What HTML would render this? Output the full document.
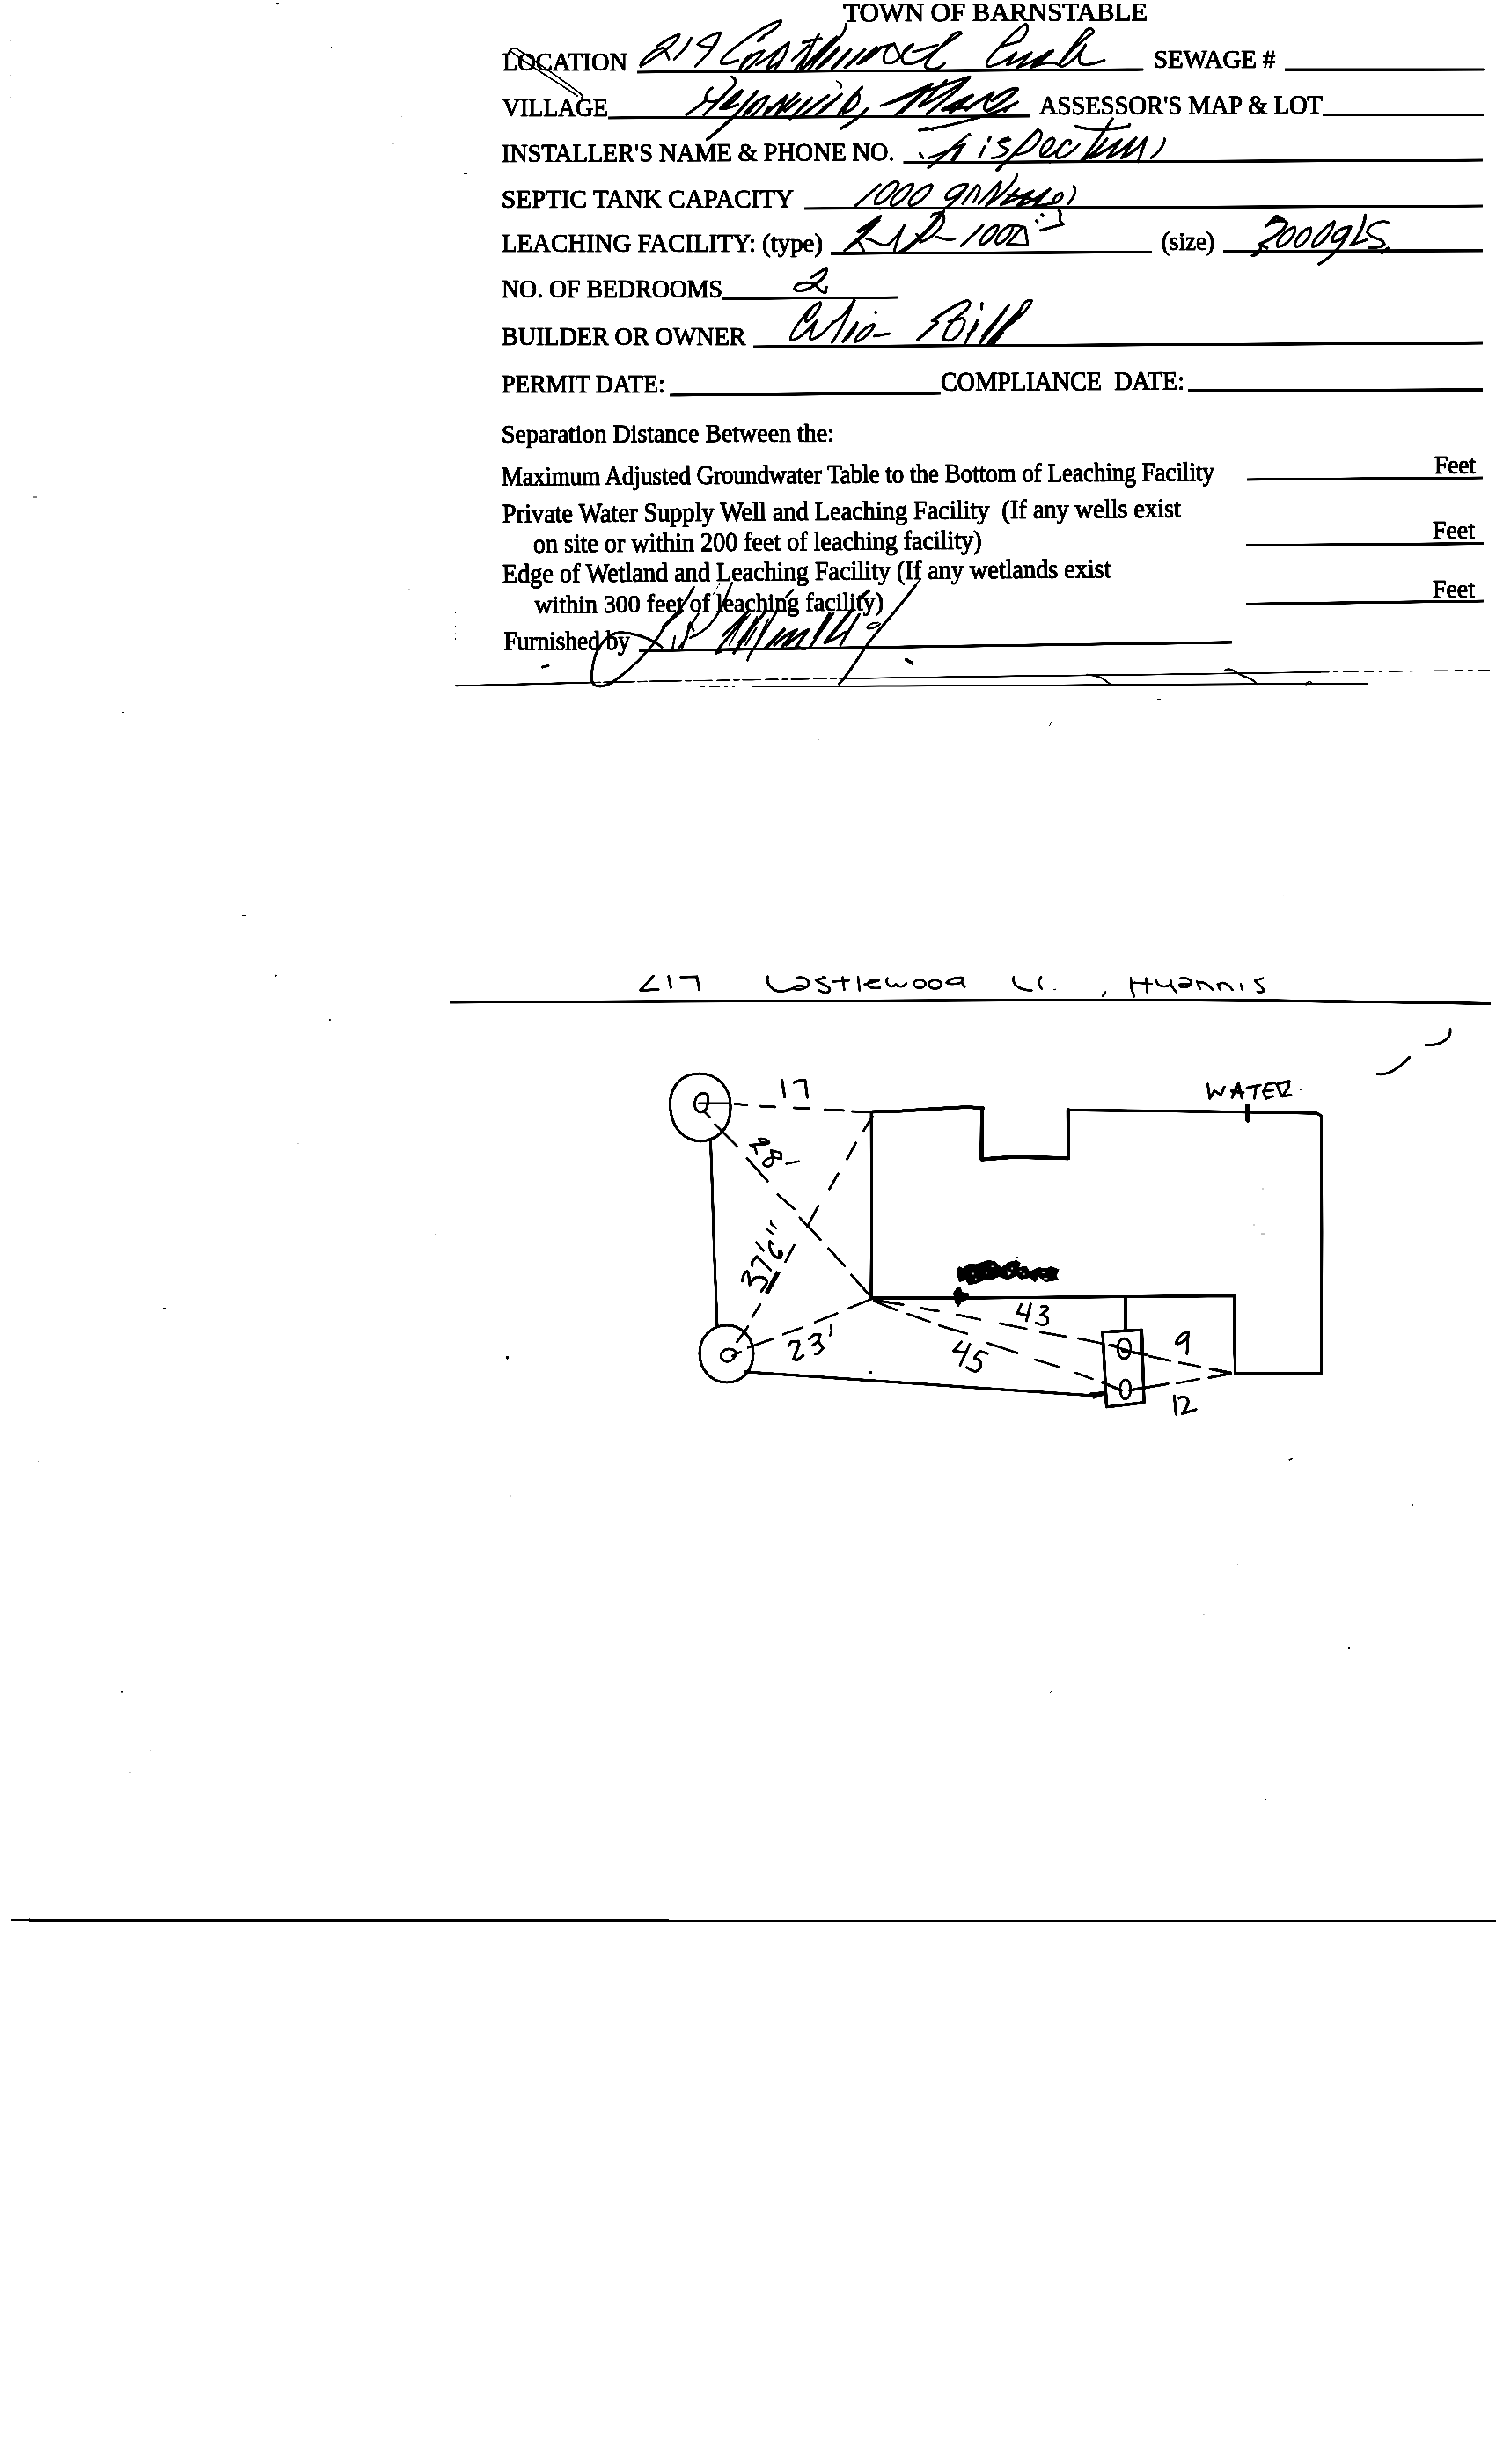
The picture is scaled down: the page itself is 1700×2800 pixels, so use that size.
<!DOCTYPE html>
<html><head><meta charset="utf-8"><title>Town of Barnstable</title>
<style>
html,body{margin:0;padding:0;background:#fff;}
body{width:1700px;height:2800px;overflow:hidden;}
svg{display:block;}
text{font-family:"Liberation Serif",serif;fill:#000;white-space:pre;stroke:#000;stroke-width:1.2px;stroke-linejoin:round;}
.ln{stroke:#000;stroke-linecap:butt;fill:none;}
.ink{stroke:#000;fill:none;stroke-linecap:round;stroke-linejoin:round;}
</style></head><body>
<svg width="1700" height="2800" viewBox="0 0 1700 2800">
<rect x="0" y="0" width="1700" height="2800" fill="#fff"/>
<defs><filter id="scan" x="0" y="0" width="1700" height="2800" filterUnits="userSpaceOnUse" color-interpolation-filters="sRGB"><feTurbulence type="fractalNoise" baseFrequency="0.55" numOctaves="1" seed="7" result="n"/><feDisplacementMap in="SourceGraphic" in2="n" scale="1.3" xChannelSelector="R" yChannelSelector="G" result="d"/><feComponentTransfer in="d"><feFuncA type="linear" slope="5" intercept="-2"/></feComponentTransfer></filter></defs>
<g id="page" filter="url(#scan)">
<g id="printed">
<text x="958.5" y="24.2" font-size="29.8" textLength="345.5" lengthAdjust="spacingAndGlyphs" xml:space="preserve" transform="rotate(-0.166 958.5 24.2)">TOWN OF BARNSTABLE</text>
<text x="571.0" y="79.5" font-size="29.8" textLength="142.0" lengthAdjust="spacingAndGlyphs" xml:space="preserve" transform="rotate(0.000 571.0 79.5)">LOCATION</text>
<text x="1311.0" y="77.0" font-size="29.8" textLength="138.5" lengthAdjust="spacingAndGlyphs" xml:space="preserve" transform="rotate(0.000 1311.0 77.0)">SEWAGE #</text>
<text x="571.0" y="132.0" font-size="29.8" textLength="120.0" lengthAdjust="spacingAndGlyphs" xml:space="preserve" transform="rotate(0.000 571.0 132.0)">VILLAGE</text>
<text x="1181.0" y="129.8" font-size="29.8" textLength="322.0" lengthAdjust="spacingAndGlyphs" xml:space="preserve" transform="rotate(-0.142 1181.0 129.8)">ASSESSOR'S MAP &amp; LOT</text>
<text x="570.0" y="183.8" font-size="29.8" textLength="446.5" lengthAdjust="spacingAndGlyphs" xml:space="preserve" transform="rotate(-0.225 570.0 183.8)">INSTALLER'S NAME &amp; PHONE NO.</text>
<text x="570.0" y="235.5" font-size="29.8" textLength="332.0" lengthAdjust="spacingAndGlyphs" xml:space="preserve" transform="rotate(-0.086 570.0 235.5)">SEPTIC TANK CAPACITY</text>
<text x="570.0" y="286.0" font-size="29.8" textLength="365.0" lengthAdjust="spacingAndGlyphs" xml:space="preserve" transform="rotate(0.000 570.0 286.0)">LEACHING FACILITY: (type)</text>
<text x="1320.0" y="284.0" font-size="29.8" textLength="60.0" lengthAdjust="spacingAndGlyphs" xml:space="preserve" transform="rotate(0.000 1320.0 284.0)">(size)</text>
<text x="570.0" y="337.5" font-size="29.8" textLength="251.0" lengthAdjust="spacingAndGlyphs" xml:space="preserve" transform="rotate(0.000 570.0 337.5)">NO. OF BEDROOMS</text>
<text x="570.0" y="392.0" font-size="29.8" textLength="277.5" lengthAdjust="spacingAndGlyphs" xml:space="preserve" transform="rotate(0.000 570.0 392.0)">BUILDER OR OWNER</text>
<text x="570.3" y="446.4" font-size="29.8" textLength="100.5" lengthAdjust="spacingAndGlyphs" xml:space="preserve" transform="rotate(0.000 570.3 446.4)">PERMIT</text>
<text x="676.6" y="446.4" font-size="29.8" textLength="79.2" lengthAdjust="spacingAndGlyphs" xml:space="preserve" transform="rotate(0.000 676.6 446.4)">DATE:</text>
<text x="1069.0" y="443.8" font-size="29.8" textLength="277.0" lengthAdjust="spacingAndGlyphs" xml:space="preserve" transform="rotate(-0.259 1069.0 443.8)">COMPLIANCE  DATE:</text>
<text x="570.0" y="502.5" font-size="30.3" textLength="378.0" lengthAdjust="spacingAndGlyphs" xml:space="preserve" transform="rotate(-0.182 570.0 502.5)">Separation Distance Between the:</text>
<text x="570.0" y="551.6" font-size="30.3" textLength="810.0" lengthAdjust="spacingAndGlyphs" xml:space="preserve" transform="rotate(-0.396 570.0 551.6)">Maximum Adjusted Groundwater Table to the Bottom of Leaching Facility</text>
<text x="571.0" y="593.8" font-size="30.3" textLength="771.0" lengthAdjust="spacingAndGlyphs" xml:space="preserve" transform="rotate(-0.468 571.0 593.8)">Private Water Supply Well and Leaching Facility  (If any wells exist</text>
<text x="606.0" y="627.9" font-size="30.3" textLength="509.6" lengthAdjust="spacingAndGlyphs" xml:space="preserve" transform="rotate(-0.483 606.0 627.9)">on site or within 200 feet of leaching facility)</text>
<text x="571.0" y="662.1" font-size="30.3" textLength="691.6" lengthAdjust="spacingAndGlyphs" xml:space="preserve" transform="rotate(-0.505 571.0 662.1)">Edge of Wetland and Leaching Facility (If any wetlands exist</text>
<text x="607.5" y="697.1" font-size="30.3" textLength="396.5" lengthAdjust="spacingAndGlyphs" xml:space="preserve" transform="rotate(-0.520 607.5 697.1)">within 300 feet of leaching facility)</text>
<text x="572.5" y="738.6" font-size="30.3" textLength="143.5" lengthAdjust="spacingAndGlyphs" xml:space="preserve" transform="rotate(-0.240 572.5 738.6)">Furnished by</text>
<text x="1630.0" y="538.0" font-size="30.3" textLength="47.0" lengthAdjust="spacingAndGlyphs" xml:space="preserve" transform="rotate(0.000 1630.0 538.0)">Feet</text>
<text x="1628.0" y="612.4" font-size="30.3" textLength="48.0" lengthAdjust="spacingAndGlyphs" xml:space="preserve" transform="rotate(0.000 1628.0 612.4)">Feet</text>
<text x="1628.0" y="679.2" font-size="30.3" textLength="48.0" lengthAdjust="spacingAndGlyphs" xml:space="preserve" transform="rotate(0.000 1628.0 679.2)">Feet</text>
<rect x="940" y="0" width="380" height="4.7" fill="#fff"/>
</g>
<g id="rules">
<line class="ln" x1="724.0" y1="82.0" x2="1299.5" y2="79.0" stroke-width="3.2"/>
<line class="ln" x1="1460.0" y1="79.2" x2="1686.7" y2="79.0" stroke-width="3.2"/>
<line class="ln" x1="691.0" y1="134.0" x2="1170.0" y2="131.8" stroke-width="3.2"/>
<line class="ln" x1="1503.0" y1="130.8" x2="1686.0" y2="130.4" stroke-width="3.0"/>
<line class="ln" x1="1026.5" y1="184.5" x2="1685.0" y2="182.0" stroke-width="3.2"/>
<line class="ln" x1="914.0" y1="237.0" x2="1685.0" y2="234.0" stroke-width="3.2"/>
<line class="ln" x1="944.0" y1="288.0" x2="1309.0" y2="286.5" stroke-width="3.4"/>
<line class="ln" x1="1390.0" y1="285.3" x2="1685.0" y2="284.8" stroke-width="3.2"/>
<line class="ln" x1="821.0" y1="339.5" x2="1020.0" y2="338.0" stroke-width="3.0"/>
<line class="ln" x1="856.0" y1="394.0" x2="1685.0" y2="390.0" stroke-width="3.2"/>
<line class="ln" x1="761.0" y1="449.0" x2="1069.0" y2="447.0" stroke-width="3.2"/>
<line class="ln" x1="1350.0" y1="444.0" x2="1685.0" y2="443.0" stroke-width="3.4"/>
<line class="ln" x1="1417.0" y1="545.0" x2="1685.0" y2="543.0" stroke-width="3.2"/>
<line class="ln" x1="1416.0" y1="619.7" x2="1686.0" y2="617.6" stroke-width="3.2"/>
<line class="ln" x1="1416.0" y1="686.3" x2="1686.0" y2="683.0" stroke-width="3.2"/>
<line class="ln" x1="726.0" y1="739.5" x2="1400.0" y2="729.8" stroke-width="3.2"/>
<line class="ln" x1="13.0" y1="2181.8" x2="34.0" y2="2181.8" stroke-width="2.4"/>
<line class="ln" x1="33.0" y1="2182.3" x2="760.0" y2="2182.5" stroke-width="3.3"/>
<line class="ln" x1="758.0" y1="2182.8" x2="1700.0" y2="2182.8" stroke-width="2.1"/>
</g>
<!-- 10_sketch.svg -->
<g id="sketch" class="ink">
<!-- title rule -->
<path class="ln" d="M511,1138.800 L890,1137.600 L1260,1136.400 L1440,1137 L1694,1140.300" stroke-width="3.300" stroke-linecap="butt"/>
<!-- circle 1 -->
<path d="M795,1220 C815,1220 830,1236 830,1256 C831,1278 820,1292 803,1296 C790,1299 776,1293 769,1282 C761,1270 759,1250 765,1238 C771,1226 782,1220 795,1220 Z" stroke-width="3.2"/>
<path d="M804,1244 C797,1239 790,1246 789.500,1254 C789,1262 795,1266 800,1263 C804,1260 806,1250 804,1244 M799,1262 L807,1270 M794,1253.800 L828,1253.800" stroke-width="2.800"/>
<!-- circle 2 -->
<path d="M826,1506 C843,1506 856,1520 856,1538 C856,1556 844,1571 826,1571 C808,1571 795,1556 795,1538 C795,1520 808,1506 826,1506 Z" stroke-width="3.2"/>
<path d="M836,1536 C832,1531 822,1532 819.500,1539 C818,1546 826,1549 831,1546 C835,1543 837,1539 836,1536 M832,1541 L842,1536" stroke-width="2.800"/>
<!-- vertical link between circles -->
<path d="M807.500,1296 L809,1340 L811.500,1420 L815,1507" stroke-width="3.200"/>
<!-- 17 dashes -->
<path d="M835,1254.500 L848.800,1255.500 M863.800,1257 L881,1258 M902.500,1259 L920,1259.500 M937.500,1260.800 L958.800,1262 M968,1263 L992,1263.500" stroke-width="2.800"/>
<!-- house outline -->
<path d="M991,1263.500 L1025,1262.500 L1062,1260 L1100,1258 L1117,1259.500" stroke-width="4"/>
<path d="M1116,1259 L1115.500,1317.500 L1152,1314.800 L1214,1316.300 L1213.800,1261.300" stroke-width="4.500"/>
<path d="M1213.800,1261.500 L1326,1262.500 L1418,1263.800 L1496,1265 L1501.500,1268 L1501.800,1400 L1501.500,1561 L1403.800,1560.800 L1402.500,1520 L1403,1472.500 L1280,1473.500 L1100,1475 L990,1475 L990.500,1400 L990.200,1264" stroke-width="3.400"/>
<!-- water tick -->
<path d="M1417.500,1257 L1418,1273" stroke-width="5.500"/>
<!-- tank connection + tank -->
<path d="M1278.800,1474 L1278.800,1511" stroke-width="3.800"/>
<path d="M1253,1513.800 L1297.500,1511.300 L1300,1593.800 L1257.500,1598.800 Z" stroke-width="3.600"/>
<ellipse cx="1277.500" cy="1532.500" rx="7.500" ry="11.500" stroke-width="2.800"/>
<ellipse cx="1278.800" cy="1578.800" rx="6" ry="11" stroke-width="2.800"/>
<!-- 28 diagonal -->
<path d="M812.500,1277.500 L837.500,1302.500 M848.800,1316.300 L872.500,1342.500 M883.800,1357.500 L902.500,1373.800 M908.800,1383.800 L932.500,1408.800 M941.300,1418.800 L960,1438.800 M967.500,1448.800 L990,1474" stroke-width="2.800"/>
<!-- 37'6 dashed -->
<path d="M991.300,1268.800 L981.300,1285 M972.500,1298.800 L962.500,1317.500 M952.500,1333.800 L942.500,1351.300 M930,1370 L917.500,1393.800 M902.500,1415 L892.500,1433.800 M885,1446.300 L872.500,1468.800 M863.800,1482.500 L855,1496.300 M850,1507.500 L837.500,1525" stroke-width="2.800"/>
<!-- 23 dashed -->
<path d="M850,1531.300 L878.800,1521.300 M890,1516.300 L911.300,1508.800 M926.300,1502.500 L951.300,1492.500 M963.800,1487 L990,1476.300" stroke-width="2.800"/>
<!-- 43 dashed -->
<path d="M993.800,1477.500 L1026.300,1482.500 M1046.300,1486.300 L1066.300,1490 M1087.500,1493.800 L1113.800,1499.500 M1136.300,1503.800 L1166.300,1510 M1182.500,1513.800 L1211.300,1518.800 M1225,1520.800 L1253.800,1527 M1261,1528.500 L1284,1535.500" stroke-width="2.800"/>
<!-- 45 dashed -->
<path d="M993.800,1478.800 L1018.800,1488.800 M1031.300,1493 L1056.300,1502 M1067.500,1506.300 L1098.800,1515.500 M1122.500,1526.300 L1156.300,1537.500 M1176.300,1545 L1202.500,1553 M1222.500,1560 L1241.300,1567 M1252.500,1571.300 L1275,1580" stroke-width="2.800"/>
<!-- bottom line from circle 2 -->
<path d="M846.300,1558.800 L1100,1576.300 L1250,1586.300 M1243,1588 L1252,1585" stroke-width="3.200"/>
<!-- 9 and 12 lines -->
<path d="M1275,1535 L1298.800,1538.800 M1305,1540.800 L1330,1546.300 M1340,1548.300 L1363.800,1553 M1375,1555.500 L1398.800,1560" stroke-width="2.800"/>
<path d="M1283,1580 L1327.500,1572.500 M1337.500,1572 L1362.500,1567 M1373.800,1565.500 L1398.800,1560.500" stroke-width="2.800"/>
</g>

<!-- 11_sketch_labels.svg -->
<g id="sketch-labels" class="ink">
<!-- 17 / 28 : tile (840,1215) s=12.467 -->
<g transform="translate(840,1215) scale(0.08021)" stroke-width="40">
<path d="M608,160 L645,395"/>
<path d="M775,188 C830,162 900,150 935,160 L965,400"/>
<path d="M275,990 C330,975 410,1000 425,1040 C400,1075 300,1065 150,1075 L215,1095 L250,1195" stroke-width="36"/>
<path d="M290,1000 L300,1030 L370,1040" stroke-width="26"/>
<path d="M450,1150 L590,1185 L600,1275 L480,1250 Z" stroke-width="34"/>
<path d="M455,1150 L470,1255 C420,1250 350,1290 340,1330 C350,1380 420,1385 450,1360 C480,1335 490,1290 470,1250" stroke-width="34"/>
<path d="M665,1340 L845,1305" stroke-width="32"/>
</g>
<!-- 37'6" : tile (830,1375) s=12.467 -->
<g transform="translate(830,1375) scale(0.08021)" stroke-width="40">
<path d="M170,1010 C175,930 200,880 240,870 C270,900 260,1000 275,1060 C300,980 360,940 420,950 C480,960 520,990 520,1030 C500,1070 460,1110 440,1150"/>
<path d="M310,790 L310,730 L375,660 L570,850"/>
<path d="M365,460 L470,575" stroke-width="36"/>
<path d="M560,445 L600,480 M555,450 C540,530 580,630 650,670 C700,690 730,670 725,610 C720,580 700,570 690,600 L690,650"/>
<path d="M570,150 L580,200 L650,260 M520,275 L595,335" stroke-width="32"/>
<path d="M690,890 L540,1165 M655,880 L505,1160" stroke-width="30"/>
</g>
<!-- 23' : tile (880,1490) s=12.467 -->
<g transform="translate(880,1490) scale(0.08021)" stroke-width="40">
<path d="M200,490 L240,430 L340,425 L350,470 L270,680 L330,690 L410,625"/>
<path d="M495,395 L560,335 L650,330 L620,430 L545,485 M620,430 L690,520 L620,600 L580,605"/>
<path d="M800,200 L810,280 L790,345" stroke-width="32"/>
<circle cx="1365" cy="865" r="22" fill="#000" stroke="none"/>
</g>
<!-- 45 / 43 : tile (1070,1470) s=9.973 -->
<g transform="translate(1070,1470) scale(0.10027)" stroke-width="30">
<path d="M225,545 L135,650 L260,665 M320,575 L210,810"/>
<path d="M520,680 L430,650 L370,730 C420,740 460,760 440,830 C420,890 370,900 285,835"/>
<path d="M905,120 L858,222 L985,250 M1010,115 L960,310"/>
<path d="M1130,150 C1170,130 1210,150 1200,180 L1120,245 C1180,240 1220,280 1200,330 C1180,365 1110,360 1070,330"/>
</g>
<!-- 9 / 12 / tank details : tile (1240,1500) s=8.311 -->
<g transform="translate(1240,1500) scale(0.12032)" stroke-width="26">
<path d="M920,120 C880,100 810,170 800,220 C830,240 900,190 915,140 L905,320"/>
<path d="M785,715 L800,890 M830,740 C870,710 920,730 915,780 C905,830 875,860 860,885 L990,845"/>
<path d="M175,235 L245,245 M300,290 L520,325 M110,590 L270,660 M400,655 L500,640"/>
<path d="M1125,460 L1320,505 L1115,545" />
<path d="M0,700 L120,690" stroke-width="34"/>
</g>
<!-- WATER : tile (1360,1215) s=12.467 -->
<g transform="translate(1360,1215) scale(0.08021)" stroke-width="38">
<path d="M155,210 L185,415 L250,305 L340,365 L390,250"/>
<path d="M590,200 L500,400 M590,200 L640,410 M490,310 L660,335 M560,250 L540,300" stroke-width="42"/>
<path d="M710,265 L900,225 M840,240 L815,415"/>
<path d="M1100,190 L990,215 L940,320 L985,415 L1075,385 M950,310 L1080,295"/>
<path d="M1130,215 L1310,165 L1300,250 L1215,385 L1335,365 M1135,215 L1200,380"/>
<circle cx="1470" cy="285" r="14" fill="#000" stroke="none"/>
</g>
<!-- scribble : tile (1070,1420) s=9.973 -->
<g transform="translate(1070,1420) scale(0.10027)" stroke="none" fill="#000">
<path d="M170,220 L200,190 L240,210 L310,160 L385,165 L460,140 L530,120 L600,130 L680,200 L760,140 L850,120 L895,150 L880,200 L960,185 L1000,250 L1100,200 L1180,215 L1240,190 L1335,225 L1300,300 L1335,345 L1180,370 L1100,310 L1060,375 L1000,320 L900,340 L850,300 L750,345 L650,310 L560,345 L500,340 L400,385 L310,405 L270,345 L200,375 L170,270 Z"/>
<path d="M130,490 L180,420 L220,430 L230,480 L305,490 L310,560 L230,590 L190,655 L150,600 Z"/>
<rect x="835" y="78" width="30" height="18"/>
<g fill="#fff">
<path d="M745,235 L790,270 L750,300 Z"/>
<rect x="565" y="185" width="22" height="14"/><rect x="500" y="250" width="14" height="26"/><rect x="350" y="265" width="16" height="18"/>
<rect x="1140" y="255" width="30" height="14"/><rect x="1160" y="320" width="40" height="14"/><rect x="790" y="205" width="18" height="18"/>
<rect x="885" y="238" width="22" height="10"/><rect x="930" y="268" width="12" height="22"/><rect x="380" y="325" width="14" height="22"/>
</g>
</g>
<!-- stray strokes at right -->
<path d="M1565,1220.500 C1575,1222.500 1588,1216 1602,1201" stroke-width="3"/>
<path d="M1620,1187.800 C1634,1188.500 1650,1182 1648,1169" stroke-width="3"/>
</g>

<!-- 12_title_hand.svg -->
<g id="title-hand" class="ink">
<g transform="translate(720,1098) scale(0.125)" stroke-width="24">
<path d="M180,90 L60,220 L225,212"/>
<path d="M318,92 L340,195"/>
<path d="M430,98 L575,95 L598,215"/>
<path d="M1220,95 C1200,160 1260,225 1330,230 C1380,230 1430,210 1470,190"/>
</g>
<g transform="translate(900,1098) scale(0.125)" stroke-width="22">
<path d="M40,105 C110,90 160,120 150,170 C130,210 40,225 15,200 C20,175 90,170 120,190"/>
<path d="M300,105 L215,125 C230,150 330,170 345,210 C340,250 290,250 240,215 M283,98 L288,104"/>
<path d="M460,100 L475,215 M375,140 L520,130"/>
<path d="M600,100 L615,220"/>
<path d="M660,165 L790,130 C740,110 690,130 690,170 C700,200 760,205 800,195"/>
<path d="M860,125 C860,190 920,200 945,160 C960,200 1030,190 1040,150 M868,108 L872,112"/>
<ellipse cx="1160" cy="160" rx="53" ry="38"/>
<ellipse cx="1300" cy="165" rx="58" ry="38"/>
</g>
<g transform="translate(1070,1098) scale(0.125)" stroke-width="22">
<path d="M45,150 C60,115 140,100 200,105 L180,150 C140,165 70,165 45,150 Z M185,150 L210,190"/>
<path d="M655,100 C640,160 690,215 820,220"/>
<path d="M905,100 C870,130 885,180 910,205"/>
<path d="M1022,213 L1036,211" stroke-width="14"/>
<path d="M1490,235 L1465,270" stroke-width="20"/>
</g>
<g transform="translate(1260,1098) scale(0.125)" stroke-width="22">
<path d="M200,105 L205,200 L230,275 M235,150 L390,160 M340,110 L350,240"/>
<path d="M430,130 C440,180 500,200 560,170 M560,120 L570,180 L615,240"/>
<path d="M650,110 C720,100 760,130 745,165 C720,200 640,195 640,170 C660,155 720,160 740,165"/>
<path d="M800,135 L830,205 M815,150 C850,130 900,170 950,215"/>
<path d="M990,165 L1010,210 M1000,170 C1030,130 1080,160 1125,215"/>
<path d="M1200,165 L1215,215"/>
<path d="M1400,110 L1330,130 C1340,160 1410,190 1410,225 C1390,240 1360,235 1350,232"/>
</g>
</g>

<!-- 20_hand_location.svg -->
<g id="hand-location" class="ink">
<g transform="translate(720,15) scale(0.13369)" stroke-width="22.4">
<path d="M195,285 C260,240 330,195 390,180 C390,220 300,300 230,340 C170,380 100,430 60,450 C50,420 110,370 175,320 C210,300 240,295 265,300 L300,390"/>
<path d="M490,210 C470,260 400,340 345,390"/>
<path d="M545,265 C600,210 690,170 740,165 C720,220 700,260 680,290 C630,290 570,280 545,265 M700,240 C670,320 580,400 525,450"/>
<path d="M1110,190 C1180,150 1250,100 1255,65 C1200,60 1000,180 850,300 C780,355 725,410 745,430 C790,440 850,410 890,400"/>
<path d="M1060,235 L1100,205" stroke-width="29"/>
<path d="M900,480 C940,410 1030,330 1110,320 C1060,390 990,450 945,485 M1000,350 C960,380 920,430 905,470" />
<path d="M1040,440 C1120,400 1250,300 1320,250 C1310,330 1250,420 1195,482 M1320,250 C1250,300 1160,400 1130,480 M1130,480 L1260,400" />
<path d="M1496,330 L1370,480 M1440,250 L1496,240"/>
</g>
<g transform="translate(900,15) scale(0.13369)" stroke-width="22.4">
<path d="M0,400 L150,270 M230,175 L70,470 M110,240 L250,215"/>
<path d="M80,480 C200,380 380,230 420,190 C450,150 460,110 460,90 M410,200 C350,260 200,400 140,480 M380,200 C300,270 180,380 120,440"/>
<path d="M400,290 L210,470 M500,310 L340,470 M620,310 L450,460 M720,290 L560,430 M210,470 C260,440 330,380 400,300 M340,470 C400,420 460,360 500,310 M450,460 C520,410 580,350 620,310 M560,430 C640,400 720,330 760,290" stroke-width="26.4"/>
<path d="M870,260 C800,300 760,370 790,420 C850,440 900,400 920,370 L870,265 M760,290 L870,260"/>
<path d="M1030,265 C960,290 900,380 960,430 C1020,440 1070,410 1090,400 M920,370 L1030,265"/>
<path d="M1100,400 C1200,330 1330,250 1440,170 C1430,150 1380,160 1340,210 C1250,310 1130,400 1130,450 C1160,490 1260,480 1300,420"/>
<path d="M1030,330 L1240,270" />
</g>
<g transform="translate(1100,15) scale(0.13369)" stroke-width="22.4">
<path d="M290,280 L440,240 C500,180 530,110 490,90 C420,130 260,290 185,380 C140,435 150,465 205,448 C270,430 340,395 410,335"/>
<path d="M410,335 L330,440 M540,335 L420,460 M330,440 C400,420 480,370 540,335 M420,460 C520,430 640,360 720,320"/>
<path d="M720,320 L560,450 M690,330 L540,455" stroke-width="31.7"/>
<path d="M560,450 C640,430 720,400 770,440 M770,440 C850,350 960,230 1060,170 C1075,140 1050,120 1010,140 C960,200 880,300 800,400 C760,440 780,470 830,440 C900,400 960,330 1000,270"/>
<path d="M1000,270 C960,330 920,400 960,430 C1020,450 1100,420 1160,400"/>
</g>
</g>

<!-- 21_hand_village.svg -->
<g id="hand-village" class="ink">
<g transform="translate(780,85) scale(0.14706)" stroke-width="21.1">
<path d="M200,100 C170,120 140,160 150,200 L0,310 M150,200 C200,220 240,200 290,170"/>
<path d="M350,15 C400,40 380,80 340,110 C280,170 200,250 135,310"/>
<path d="M430,120 C380,150 330,200 260,260 C330,240 400,180 430,125 M400,230 C350,250 280,270 260,260"/>
<path d="M550,125 C480,200 350,360 160,500" stroke-width="25.1"/>
<path d="M640,165 C560,180 470,260 440,320 M640,165 C600,230 540,290 500,320 M560,200 L470,300"/>
<path d="M870,145 L680,320 M780,160 L600,310 M680,320 C720,270 760,200 780,160 M600,310 L640,250" stroke-width="23.8"/>
<path d="M970,180 L800,340 M1100,160 L880,320 M800,340 C860,280 920,220 970,180 M880,320 C940,280 1040,200 1100,160 M760,280 L880,190" stroke-width="23.8"/>
<path d="M1200,150 L1000,310 M1000,310 C1060,280 1120,220 1200,150 M1060,250 L1160,190"/>
<path d="M1160,50 C1190,60 1200,80 1195,100" stroke-width="13.2"/>
<path d="M1360,95 C1300,150 1220,240 1170,310 M1330,140 C1350,200 1320,260 1210,300 M1330,140 C1280,180 1230,250 1210,300"/>
<path d="M1390,270 C1340,320 1260,380 1195,415" stroke-width="23.8"/>
</g>
<g transform="translate(980,85) scale(0.14706)" stroke-width="22.4">
<path d="M0,300 L40,260"/>
<path d="M140,240 C250,200 400,130 540,70 M150,235 C260,215 380,160 500,95" stroke-width="18.5"/>
<path d="M540,70 L260,310 M440,240 L650,45 M520,100 L300,290" />
<path d="M480,130 L830,15 C800,80 600,220 500,300 M810,40 C700,110 560,200 440,245"/>
<path d="M850,160 C780,190 680,240 620,270 M850,160 L680,290 M620,270 L800,250" stroke-width="26.4"/>
<path d="M1010,140 C940,180 850,230 800,270 M1010,140 C960,200 920,260 960,280 C1020,260 1150,170 1200,110 C1180,90 1100,130 1000,200" stroke-width="26.4"/>
<path d="M1200,210 C1100,280 700,400 440,430 C470,410 520,410 540,425" stroke-width="22.4"/>
<path d="M1130,250 L1100,280" stroke-width="26.4"/>
</g>
</g>

<!-- 22_hand_installer.svg -->
<g id="hand-installer" class="ink">
<g transform="translate(1030,135) scale(0.20721)" stroke-width="14.5">
<path d="M330,95 C280,140 200,200 120,270 M75,190 L90,215 M120,215 C200,190 260,160 320,140"/>
<path d="M320,140 C280,180 260,200 250,225 M300,170 L260,225"/>
<path d="M343,84 L347,88 M460,100 L450,120" stroke-width="17.2"/>
<path d="M430,150 L400,210"/>
<path d="M570,115 L505,130 M560,105 C520,110 500,130 520,150 L560,170 C540,200 500,215 470,215"/>
<path d="M720,60 C690,90 600,190 495,280" stroke-width="17.2"/>
<path d="M720,60 C760,70 740,120 680,170 C650,190 610,200 590,190"/>
<path d="M740,200 C800,160 830,110 800,105 C760,120 720,180 740,210 C780,220 840,170 880,120"/>
<path d="M880,120 C840,150 810,200 830,215 C870,215 920,170 950,140 M880,120 C900,110 910,125 895,140"/>
<path d="M1130,0 C1090,60 1020,160 960,230 M930,40 C1000,70 1150,60 1220,40 L1225,30" stroke-width="15.8"/>
<path d="M1100,110 L1010,215 M1180,115 L1100,215 M1260,105 L1180,215 M1320,100 L1270,235 M1010,215 C1080,190 1140,140 1180,115 M1100,215 C1170,190 1220,140 1260,105 M1180,215 C1240,190 1290,140 1320,100 M960,230 C1020,200 1070,150 1100,110" stroke-width="15.8"/>
<path d="M1415,110 C1420,140 1380,190 1340,215"/>
</g>
<g transform="translate(930,190) scale(0.20721)" stroke-width="14.5">
<path d="M340,95 C300,130 240,180 205,210"/>
<path d="M430,75 C380,90 300,170 310,200 C340,215 430,130 440,90 Z"/>
<path d="M520,90 C470,100 380,180 400,210 C430,215 510,140 520,95 Z"/>
<path d="M620,95 C570,105 480,180 500,210 C540,210 610,150 625,100 Z"/>
<path d="M820,95 C760,90 690,140 700,175 C740,180 800,130 820,100 C790,150 730,200 690,230"/>
<path d="M870,100 L790,200 M870,100 C900,100 880,150 850,190"/>
<path d="M1000,2 L985,15 M1090,40 C1080,90 1000,160 920,210 M1000,80 L880,200 M920,210 C960,170 1000,120 1000,80"/>
<path d="M1100,120 L1000,205 M1180,130 L1090,210 M1270,120 L1180,215 M1000,205 C1060,190 1130,150 1180,130 M1090,210 C1150,200 1220,160 1270,120 M1040,150 L1200,180" stroke-width="15.8"/>
<path d="M1400,105 C1420,130 1400,170 1370,200 M1330,140 C1290,160 1280,190 1300,195 C1330,185 1345,160 1335,140 M1180,215 L1300,195"/>
</g>
</g>

<!-- 23_hand_leaching.svg -->
<g id="hand-leaching" class="ink">
<g transform="translate(940,235) scale(0.20721)" stroke-width="14.5">
<path d="M165,135 L295,50 C260,110 160,200 95,240 M175,140 L285,75 M120,215 L270,90 M165,180 C180,200 190,220 200,240"/>
<path d="M215,175 C260,180 290,220 330,210 C370,180 410,130 425,100 C400,150 370,210 370,240"/>
<path d="M640,25 C600,90 500,190 420,245 M620,40 C580,100 480,200 400,245" />
<path d="M570,55 C610,20 650,30 640,80 C620,130 560,180 510,195 M490,150 L520,190 M580,40 L630,30"/>
<path d="M600,165 C640,180 680,185 700,175"/>
<path d="M855,100 C820,140 760,190 735,215"/>
<path d="M935,100 C890,110 830,180 840,210 C880,200 930,150 940,105 M1010,100 C960,120 910,180 930,205 C970,200 1020,140 1020,100"/>
<path d="M1075,110 L985,205 L1100,210 L1085,115 M1020,100 L1075,110"/>
<path d="M1178,42 L1182,48 M1148,78 L1152,82" stroke-width="18.5"/>
<path d="M1270,20 C1300,40 1250,70 1295,95 L1170,130" stroke-width="15.8"/>
</g>
<g transform="translate(1390,235) scale(0.20721)" stroke-width="14.5">
<path d="M295,50 L235,105 C270,75 335,65 350,90 C335,135 260,180 200,205 L240,225 M200,205 C215,235 195,260 160,268 M290,55 L330,70" stroke-width="17.2"/>
<path d="M390,110 C340,130 280,190 300,220 C350,215 400,150 395,115"/>
<path d="M470,115 C420,140 380,200 400,220 C440,215 490,150 480,115"/>
<path d="M610,80 C560,110 480,190 490,220 C540,215 600,130 610,85"/>
<path d="M690,110 C640,115 590,160 600,190 C640,195 680,150 695,115 M700,110 C680,170 620,260 525,315" stroke-width="15.8"/>
<path d="M780,45 C775,100 740,170 700,210" stroke-width="17.2"/>
<path d="M905,85 C860,70 790,100 790,140 C810,180 880,170 885,205 C870,225 820,225 800,225 M700,210 L790,180"/>
<path d="M905,225 L870,255"/>
</g>
<!-- bedrooms 2 / Celia Bill -->
<g transform="translate(850,295) scale(0.20721)" stroke-width="14.5">
<path d="M345,100 L430,45 C435,80 410,110 370,135 C320,115 258,130 255,160 C270,185 335,165 370,135 C385,160 405,185 425,180 L430,150" stroke-width="15.8"/>
<path d="M395,235 C350,250 300,330 320,340 C350,330 400,260 400,240 M340,270 C290,330 220,420 235,440 C270,445 330,390 380,330"/>
<path d="M380,330 C360,370 330,430 345,440 C380,430 430,390 470,340"/>
<path d="M580,225 C560,290 500,400 460,455 M585,225 C550,270 520,320 470,345"/>
<path d="M600,345 L520,450 M520,450 C560,420 590,380 600,345 M698,288 L702,292"/>
<path d="M690,355 C640,370 580,430 590,450 C630,445 680,390 695,360 M690,420 C720,415 750,410 775,405"/>
<path d="M1020,330 L1040,345 L930,440 M1010,335 C1060,300 1150,240 1200,225" stroke-width="17.2"/>
<path d="M1200,225 C1230,225 1220,260 1180,290 C1130,320 1080,380 1070,440 M1180,320 C1200,340 1180,400 1120,440 C1090,450 1070,440 1075,420 M1100,340 L1180,320"/>
<path d="M1260,330 L1190,460 M1285,240 L1280,270"/>
<path d="M1430,250 C1400,300 1320,400 1270,460 M1496,290 C1440,340 1360,420 1330,470"/>
</g>
<g transform="translate(1100,295) scale(0.20721)" stroke-width="14.5">
<path d="M225,250 C180,300 100,400 65,455 M210,270 L80,420"/>
<path d="M350,225 C330,215 300,240 290,270 C240,330 150,400 110,460 M350,225 C330,290 200,380 120,440 M190,400 L140,460"/>
<path d="M50,350 C50,380 20,400 0,410 M75,240 L75,270"/>
</g>
</g>

<!-- 24_signature.svg -->
<g id="signature" class="ink">
<g transform="translate(660,650) scale(0.13369)" stroke-width="22.4">
<path d="M960,130 C900,250 800,380 720,450 C640,600 500,770 280,930 C200,980 130,990 100,940 C80,880 110,700 160,640 C200,560 280,510 350,515 C450,520 560,560 640,600 L690,640"/>
<path d="M860,330 C800,380 720,430 690,500 M840,330 L700,470" stroke-width="26.4"/>
<path d="M110,960 C160,975 230,960 290,930" stroke-width="15.8"/>
<path d="M800,545 L780,650" stroke-width="18.5"/>
<path d="M1285,90 L1225,235 C1180,340 1100,500 930,560" stroke-width="19.8"/>
<path d="M1180,100 L1120,200" stroke-width="7.9" stroke-dasharray="14 16"/>
<path d="M1000,355 C940,430 900,520 860,650 M920,440 L900,560 L830,650 M930,430 L960,500" stroke-width="18.5"/>
<path d="M1420,340 L1210,540 M1400,380 L1180,640 L1150,690" stroke-width="24"/>
<path d="M1390,400 L1260,620" stroke-width="13.2"/>
<path d="M1496,400 L1300,690" stroke-width="26"/>
<path d="M1496,470 L1400,620 M1150,690 L1190,680" stroke-width="18.5"/>
<path d="M1440,360 L1250,560 M1480,430 L1330,660" stroke-width="12"/>
</g>
<g transform="translate(840,650) scale(0.13369)" stroke-width="22.4">
<path d="M230,330 L0,600" stroke-width="26"/>
<path d="M330,320 L150,610 L90,700 L70,750" stroke-width="20"/>
<path d="M60,340 L0,420 M150,380 L40,600 M250,400 L130,640" stroke-width="14.5"/>
<path d="M380,490 L230,640" stroke-width="34"/>
<path d="M490,490 L370,630 M590,490 L480,640 M300,620 C360,560 420,520 490,490 M400,620 C460,570 520,520 590,490 M480,640 L560,650" stroke-width="26.4"/>
<path d="M800,350 L600,640 M770,350 L640,560" stroke-width="23.8"/>
<path d="M960,320 L730,600" stroke-width="32"/>
<path d="M1020,360 L860,620 M730,600 C800,580 860,540 900,510" stroke-width="23.8"/>
<path d="M1100,160 L1040,210" stroke-width="29"/>
<path d="M460,150 L400,210" stroke-width="18.5"/>
<path d="M1496,120 C1400,250 1250,420 1100,600 C1000,750 920,880 850,950" stroke-width="23.8"/>
<path d="M1180,430 C1120,430 1080,460 1090,480 C1130,490 1180,460 1200,440" stroke-width="15.8"/>
<path d="M1420,745 L1470,775" stroke-width="29"/>
</g>
<!-- tail at top right of signature -->
<path d="M1040,666 L1046,658" stroke-width="1.6"/>
</g>
<g id="scanlines" class="ink" stroke-linecap="butt">
<path d="M518,779.300 L600,777.300 L660,775.800" stroke-width="2.200"/>
<path d="M660,775.800 L760,774" stroke-width="1.800" stroke-dasharray="22 4 10 3"/>
<path d="M760,774 L855,772.600 L960,771" stroke-width="1.600" stroke-dasharray="14 5 6 4 20 6"/>
<path d="M960,771 L1100,769 L1308,766.600 L1500,763.800" stroke-width="1.800"/>
<path d="M1500,763.800 L1692,761.600" stroke-width="1.500" stroke-dasharray="10 6 4 7 16 8"/>
<path d="M855,780.300 L1000,779.600 L1160,779 L1308,777.800 L1553,777" stroke-width="2"/>
<path d="M1235,766.500 C1247,767 1256,772 1262,778" stroke-width="2"/>
<path d="M1392,762 C1396,758 1402,762 1408,766 C1416,770 1424,771 1428,777" stroke-width="2.200"/>
<path d="M1484,778 C1485,774 1489,774 1491,776" stroke-width="1.400"/>
<path d="M616.500,758 L623,756.500" stroke-width="3.200"/>
</g>

<!-- 30_speckles.svg -->
<g id="speckles" fill="#000" stroke="none">
<circle cx="315.7" cy="4.0" r="1.5"/>
<circle cx="11.4" cy="45.9" r="0.6"/>
<circle cx="11.4" cy="85.0" r="0.6"/>
<circle cx="11.4" cy="110.0" r="0.6"/>
<circle cx="376.6" cy="54.0" r="0.8"/>
<circle cx="413.0" cy="104.0" r="0.6"/>
<circle cx="456.6" cy="132.0" r="0.6"/>
<circle cx="447.0" cy="163.5" r="0.6"/>
<circle cx="495.0" cy="300.0" r="0.6"/>
<circle cx="520.7" cy="379.5" r="0.6"/>
<circle cx="167.0" cy="527.0" r="0.7"/>
<circle cx="465.0" cy="669.6" r="0.6"/>
<circle cx="140.0" cy="809.7" r="0.8"/>
<circle cx="517.5" cy="696.0" r="0.8"/>
<circle cx="517.5" cy="704.0" r="0.6"/>
<circle cx="517.5" cy="712.0" r="0.9"/>
<circle cx="517.5" cy="719.0" r="0.6"/>
<circle cx="517.5" cy="726.0" r="0.8"/>
<circle cx="313.5" cy="1108.6" r="1.2"/>
<circle cx="374.8" cy="1159.0" r="1.0"/>
<circle cx="96.9" cy="1210.0" r="0.6"/>
<circle cx="339.0" cy="1299.5" r="0.6"/>
<circle cx="278.0" cy="1404.0" r="0.6"/>
<circle cx="494.6" cy="1402.0" r="0.6"/>
<circle cx="576.5" cy="1542.8" r="2.0"/>
<circle cx="515.0" cy="1545.0" r="0.6"/>
<circle cx="524.0" cy="1545.0" r="0.6"/>
<circle cx="43.5" cy="1660.0" r="0.6"/>
<circle cx="626.0" cy="1662.6" r="0.8"/>
<circle cx="606.0" cy="1668.0" r="0.6"/>
<circle cx="653.0" cy="1853.0" r="0.6"/>
<circle cx="139.0" cy="1922.8" r="1.0"/>
<circle cx="171.0" cy="1989.7" r="0.6"/>
<circle cx="148.0" cy="2014.5" r="0.6"/>
<circle cx="1605.7" cy="1710.0" r="0.7"/>
<circle cx="1480.0" cy="1718.0" r="0.6"/>
<circle cx="1406.6" cy="1777.0" r="0.6"/>
<circle cx="1368.0" cy="1834.7" r="0.6"/>
<circle cx="1533.0" cy="1872.8" r="1.1"/>
<circle cx="1318.0" cy="1896.0" r="0.6"/>
<circle cx="1074.0" cy="1912.0" r="0.6"/>
<circle cx="1392.0" cy="1999.8" r="0.6"/>
<circle cx="1256.0" cy="2025.0" r="0.6"/>
<circle cx="1438.6" cy="2044.6" r="0.6"/>
<circle cx="1531.0" cy="2041.0" r="0.7"/>
<circle cx="1551.0" cy="2041.0" r="0.6"/>
<circle cx="1587.7" cy="2112.8" r="0.6"/>
<circle cx="825.0" cy="1667.0" r="0.6"/>
<circle cx="930.6" cy="840.0" r="0.6"/>
<circle cx="1458.7" cy="1017.0" r="0.6"/>
<circle cx="1435.0" cy="1351.0" r="0.8"/>
<circle cx="1396.0" cy="1364.0" r="0.6"/>
<circle cx="1425.0" cy="1392.0" r="0.8"/>
<circle cx="1466.0" cy="1414.0" r="0.6"/>
<circle cx="589.0" cy="1693.0" r="0.7"/>
<circle cx="585.0" cy="1697.0" r="0.6"/>
<circle cx="580.0" cy="1700.0" r="0.8"/>
<circle cx="577.0" cy="1704.0" r="0.6"/>
<circle cx="574.0" cy="1709.0" r="0.7"/>
<circle cx="570.0" cy="1712.0" r="0.6"/>
<circle cx="566.0" cy="1716.0" r="0.6"/>
<circle cx="561.0" cy="1719.0" r="0.7"/>
<circle cx="550.0" cy="1722.0" r="0.6"/>
<circle cx="547.0" cy="1724.0" r="0.6"/>
<circle cx="583.0" cy="1702.0" r="0.6"/>
<circle cx="572.0" cy="1706.0" r="0.6"/>
<circle cx="508.0" cy="1770.0" r="0.6"/>
<circle cx="512.0" cy="1775.0" r="0.6"/>
<circle cx="517.0" cy="1777.0" r="0.6"/>
<circle cx="521.0" cy="1779.0" r="0.6"/>
<circle cx="1193.0" cy="185.0" r="0.6"/>
<circle cx="1120.0" cy="218.0" r="0.6"/>
<circle cx="1000.0" cy="238.0" r="0.6"/>
</g>
<g id="specdash" stroke="#000" fill="none" stroke-linecap="butt">
<line x1="275.0" y1="1040.7" x2="280.0" y2="1040.7" stroke-width="1.2"/>
<line x1="37.5" y1="565.0" x2="42.0" y2="565.0" stroke-width="1.0"/>
<line x1="527.0" y1="197.6" x2="531.0" y2="197.6" stroke-width="1.0"/>
<line x1="185.0" y1="1486.5" x2="189.0" y2="1486.5" stroke-width="0.9"/>
<line x1="192.0" y1="1487.2" x2="196.0" y2="1487.2" stroke-width="0.9"/>
<line x1="1464.5" y1="1659.2" x2="1469.0" y2="1657.2" stroke-width="1.6"/>
<line x1="1193.5" y1="1924.0" x2="1196.0" y2="1920.0" stroke-width="0.9"/>
<line x1="1192.0" y1="825.5" x2="1194.5" y2="821.0" stroke-width="1.0"/>
<line x1="1315.0" y1="794.7" x2="1319.0" y2="794.7" stroke-width="0.9"/>
<line x1="1433.0" y1="1402.0" x2="1437.0" y2="1402.0" stroke-width="0.9"/>
<line x1="795.0" y1="780.5" x2="801.0" y2="780.5" stroke-width="0.9"/>
<line x1="806.0" y1="780.4" x2="818.0" y2="780.4" stroke-width="0.9"/>
<line x1="823.0" y1="780.4" x2="827.0" y2="780.4" stroke-width="0.9"/>
<line x1="832.0" y1="780.3" x2="835.0" y2="780.3" stroke-width="0.9"/>
</g>
<g id="loc-scribble" class="ink"><path d="M578,60 C579,55 584,54 588,56 C610,70 640,92 658,105 C662,108 663,112 661,111 M580,58 C600,74 636,95 656,109" stroke-width="1.700"/></g>
</g>
</svg>
</body></html>
